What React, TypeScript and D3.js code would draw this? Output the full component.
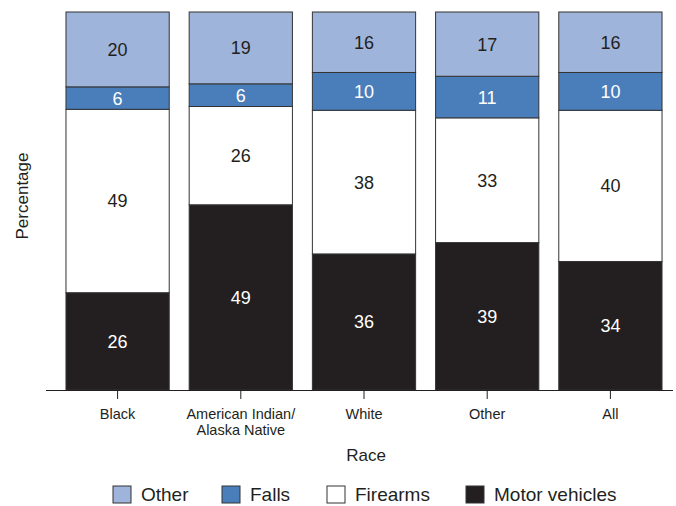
import React from "react";
import * as d3 from "d3";

const categories = ["Black", "American Indian/\nAlaska Native", "White", "Other", "All"];
const seriesKeys = ["Motor vehicles", "Firearms", "Falls", "Other"];
const motorVehicles = [26, 49, 36, 39, 34];
const firearms = [49, 26, 38, 33, 40];
const falls = [6, 6, 10, 11, 10];
const otherCauses = [20, 19, 16, 17, 16];
const legendOrder = ["Other", "Falls", "Firearms", "Motor vehicles"];

const colors: Record<string, string> = {
  "Motor vehicles": "#231f20",
  Firearms: "#ffffff",
  Falls: "#4a7ebb",
  Other: "#9fb4da",
};
const textColors: Record<string, string> = {
  "Motor vehicles": "#ffffff",
  Firearms: "#231f20",
  Falls: "#ffffff",
  Other: "#231f20",
};

const W = 676;
const H = 506;
const FONT = "'Liberation Sans', Arial, Helvetica, sans-serif";

export default function App() {
  const rows = categories.map((c, i) => ({
    cat: c,
    "Motor vehicles": motorVehicles[i],
    Firearms: firearms[i],
    Falls: falls[i],
    Other: otherCauses[i],
  }));
  const stack = d3
    .stack<any>()
    .keys(seriesKeys)
    .offset(d3.stackOffsetExpand);
  const series = stack(rows);

  const x = d3
    .scaleBand<string>()
    .domain(categories)
    .range([56, 672])
    .paddingInner(0.162)
    .paddingOuter(0.081);
  const y = d3.scaleLinear().domain([0, 1]).range([390, 12]);

  const legendX = [113, 222, 327, 466];

  return (
    <svg
      width={W}
      height={H}
      style={{ position: "absolute", left: 0, top: 0 }}
      fontFamily={FONT}
    >
      <rect width={W} height={H} fill="#fff" />
      {series.map((s) => (
        <g key={s.key}>
          {s.map((d, i) => {
            const x0 = x(categories[i])!;
            const y0 = y(d[1]);
            const y1 = y(d[0]);
            return (
              <g key={i}>
                <rect
                  x={x0}
                  y={y0}
                  width={x.bandwidth()}
                  height={y1 - y0}
                  fill={colors[s.key]}
                  stroke="#333"
                  strokeWidth={1}
                />
                <text
                  x={x0 + x.bandwidth() / 2}
                  y={(y0 + y1) / 2}
                  dy="0.36em"
                  textAnchor="middle"
                  fontSize={18}
                  fill={textColors[s.key]}
                >
                  {(rows[i] as any)[s.key]}
                </text>
              </g>
            );
          })}
        </g>
      ))}
      <line x1={46} x2={673} y1={390.5} y2={390.5} stroke="#231f20" strokeWidth={1.2} />
      {categories.map((c) => {
        const cx = x(c)! + x.bandwidth() / 2;
        const lines = c.split("\n");
        return (
          <g key={c}>
            <line x1={cx} x2={cx} y1={390} y2={399} stroke="#231f20" strokeWidth={1} />
            {lines.map((l, j) => (
              <text
                key={j}
                x={cx}
                y={419 + j * 16}
                textAnchor="middle"
                fontSize={14.5}
                fill="#231f20"
              >
                {l}
              </text>
            ))}
          </g>
        );
      })}
      <text x={366} y={461} textAnchor="middle" fontSize={17} fill="#231f20">
        Race
      </text>
      <text
        transform="translate(28,196) rotate(-90)"
        textAnchor="middle"
        fontSize={17}
        fill="#231f20"
      >
        Percentage
      </text>
      {legendOrder.map((k, i) => (
        <g key={k}>
          <rect
            x={legendX[i]}
            y={486}
            width={18}
            height={17}
            fill={colors[k]}
            stroke="#333"
            strokeWidth={1}
          />
          <text x={legendX[i] + 28} y={501} fontSize={19} fill="#231f20">
            {k}
          </text>
        </g>
      ))}
    </svg>
  );
}
